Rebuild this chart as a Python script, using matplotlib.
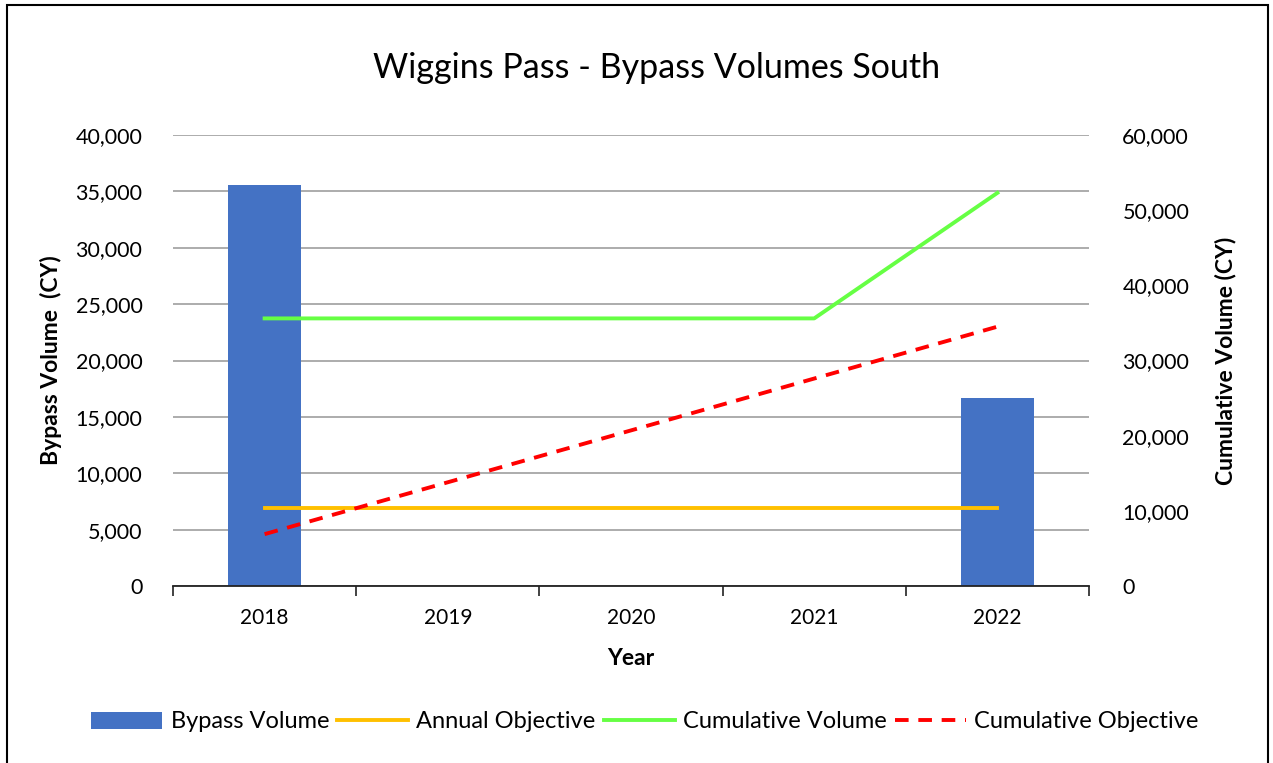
import matplotlib
matplotlib.use("Agg")
import matplotlib.pyplot as plt
from matplotlib.patches import Rectangle
from matplotlib.ticker import FuncFormatter, MultipleLocator

plt.rcParams['font.family'] = ['Lato', 'DejaVu Sans']

years = ["2018", "2019", "2020", "2021", "2022"]
bypass_volume = [35600, 0, 0, 0, 16700]
annual_objective = [6900, 6900, 6900, 6900, 6900]
cumulative_volume = [35600, 35600, 35600, 35600, 52300]
cumulative_objective = [6900, 13800, 20700, 27600, 34500]

fig = plt.figure(figsize=(12.73, 7.63), dpi=100)
ax = fig.add_axes([173/1273, 1-586/763, (1089-173)/1273, (586-135)/763])
ax2 = ax.twinx()

x = list(range(len(years)))
bars = ax.bar(x, bypass_volume, width=0.4, color="#4472C4", zorder=2, label="Bypass Volume")
l1, = ax.plot(x, annual_objective, color="#FFC000", lw=2.8, zorder=3, label="Annual Objective")
l2, = ax2.plot(x, cumulative_volume, color="#66FF44", lw=2.8, zorder=3, label="Cumulative Volume")
l3, = ax2.plot(x, cumulative_objective, color="#FF0000", lw=2.8, ls=(0, (3.5, 2.5)), zorder=3, label="Cumulative Objective")

ax.set_xlim(-0.5, 4.5)
ax.set_ylim(0, 40000)
ax2.set_ylim(0, 60000)
ax.yaxis.set_major_locator(MultipleLocator(5000))
ax2.yaxis.set_major_locator(MultipleLocator(10000))
fmt = FuncFormatter(lambda v, p: f"{int(v):,}")
ax.yaxis.set_major_formatter(fmt)
ax2.yaxis.set_major_formatter(fmt)

ax.set_xticks(x)
ax.set_xticklabels(years, fontsize=15)
ax.set_xticks([-0.5, 0.5, 1.5, 2.5, 3.5, 4.5], minor=True)
ax.tick_params(axis='x', which='major', length=0, pad=16)
ax.tick_params(axis='x', which='minor', length=7, width=1.2, color="#222222")
ax.tick_params(axis='y', length=0, labelsize=15.5, pad=22)
ax2.tick_params(axis='y', length=0, labelsize=15.5, pad=24)

ax.grid(axis='y', color="#A6A6A6", lw=1.3, zorder=0)
ax.set_axisbelow(True)
for a in (ax, ax2):
    for s in ['top', 'left', 'right']:
        a.spines[s].set_visible(False)
ax2.spines['bottom'].set_visible(False)
ax.spines['bottom'].set_color("#222222")
ax.spines['bottom'].set_linewidth(1.3)

ax.set_xlabel("Year", fontsize=16.5, fontweight='bold', labelpad=14)
ax.set_ylabel("Bypass Volume  (CY)", fontsize=16.5, fontweight='bold', labelpad=10)
ax2.set_ylabel("Cumulative Volume (CY)", fontsize=16.5, fontweight='bold', labelpad=18)

fig.text(657/1273, 1-68/763, "Wiggins Pass - Bypass Volumes South", ha='center', va='center', fontsize=24.5)

fig.legend([bars, l1, l2, l3], ["Bypass Volume", "Annual Objective", "Cumulative Volume", "Cumulative Objective"],
           loc='center', bbox_to_anchor=(645/1273, 1-722/763), ncol=4, frameon=False, fontsize=17,
           handlelength=3.0, handletextpad=0.35, columnspacing=0.35)

fig.patches.append(Rectangle((7/1273, -0.01), (1268-7)/1273, 1-5/763 + 0.01, transform=fig.transFigure,
                             fill=False, edgecolor='black', lw=1.5))

fig.savefig("out.png", dpi=100)
